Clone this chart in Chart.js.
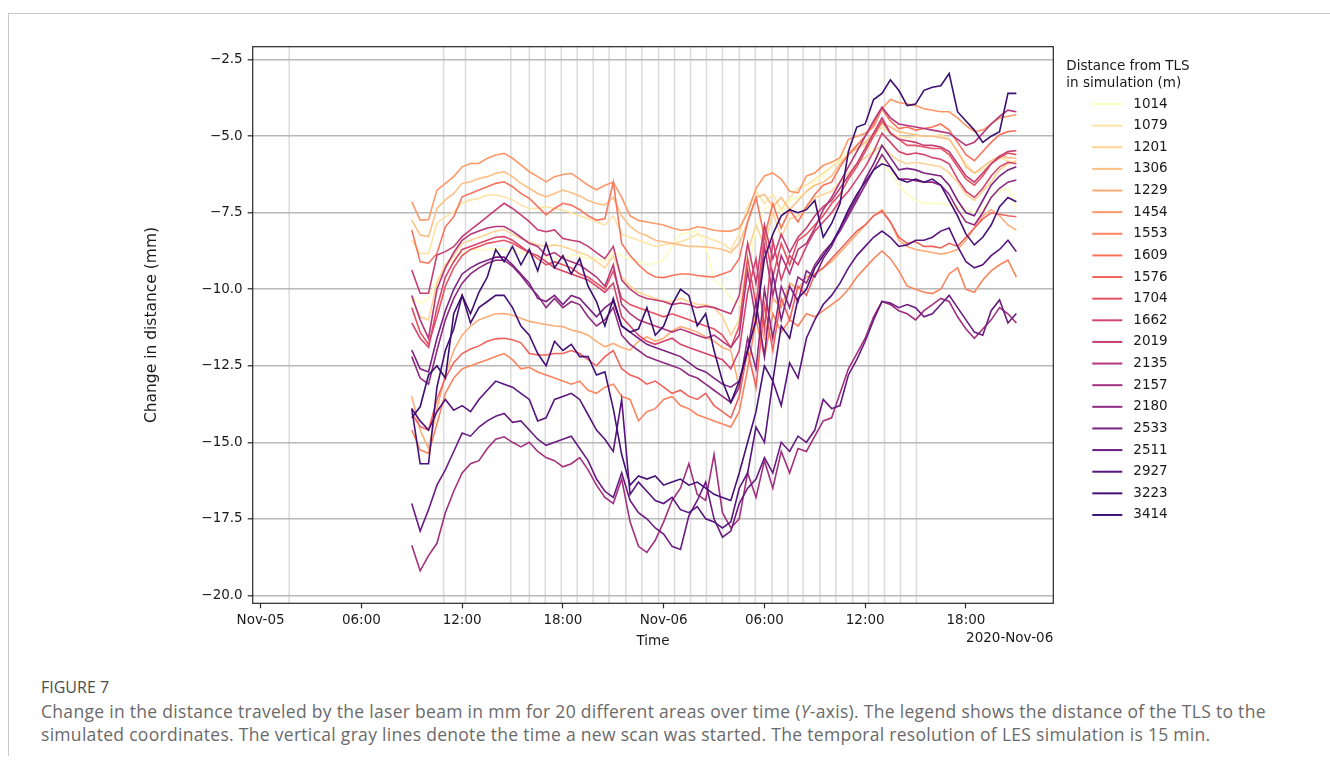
<!DOCTYPE html>
<html>
<head>
<meta charset="utf-8">
<script src="https://cdn.jsdelivr.net/npm/chart.js@4.4.1/dist/chart.umd.min.js"></script>
<style>
  html, body { margin: 0; padding: 0; background: #fff; }
  body { width: 1330px; height: 765px; position: relative; overflow: hidden; }
  #frame { position: absolute; left: 8px; top: 13px; width: 1322px; height: 742px;
           border-top: 1px solid #c9c9c9; border-left: 1px solid #c9c9c9; }
  #wrap { position: absolute; left: 0; top: 0; width: 1330px; height: 660px; }
  #fignum { position: absolute; left: 41px; top: 676px; font-family: "Open Sans", sans-serif;
            font-size: 16px; color: #4d4d4d; letter-spacing: 0px; }
  #caption { position: absolute; left: 41px; top: 700px; font-family: "Open Sans", sans-serif;
             font-size: 17.5px; line-height: 23px; color: #6a6a6a; white-space: nowrap; letter-spacing: 0.3px; }
</style>
</head>
<body>
<div id="frame"></div>
<div id="wrap"><canvas id="grafico" width="1330" height="660"></canvas></div>
<div id="fignum">FIGURE 7</div>
<div id="caption">Change in the distance traveled by the laser beam in mm for 20 different areas over time (<i>Y</i>-axis). The legend shows the distance of the TLS to the<br>simulated coordinates. The vertical gray lines denote the time a new scan was started. The temporal resolution of LES simulation is 15 min.</div>
<script>
// --- datos: horas desde 2020-11-05 00:00 ---
const hours = [9, 9.5, 10, 10.5, 11, 11.5, 12, 12.5, 13, 13.5, 14, 14.5, 15, 15.5, 16, 16.5, 17, 17.5, 18,
  18.5, 19, 19.5, 20, 20.5, 21, 21.5, 22, 22.5, 23, 23.5, 24, 24.5, 25, 25.5, 26, 26.5, 27, 27.5, 28,
  28.5, 29, 29.5, 30, 30.5, 31, 31.5, 32, 32.5, 33,
  33.5, 34, 34.5, 35, 35.5, 36, 36.5, 37, 37.5, 38, 38.5, 39, 39.5, 40, 40.5, 41, 41.5, 42, 42.5, 43, 43.5, 44, 44.5, 45];

const distances = ["1014", "1079", "1201", "1306", "1229", "1454", "1553", "1609", "1576", "1704",
  "1662", "2019", "2135", "2157", "2180", "2533", "2511", "2927", "3223", "3414"];

const s1014 = [-10.24, -10.46, -10.30, -9.70, -9.30, -9.00, -8.80, -8.72, -8.70, -8.70, -8.68, -8.70, -8.75, -8.80, -8.85, -8.90, -8.95, -9.00, -9.00,
  -8.90, -8.90, -9.00, -9.00, -9.10, -8.80, -8.90, -9.00, -9.10, -9.20, -9.15, -9.05, -8.60, -8.20, -8.15, -8.10, -8.60, -9.70, -9.90, -10.30,
  -10.50, -9.50, -8.00, -7.40, -7.20, -7.50, -7.10, -7.00, -6.80, -6.50,
  -6.30, -6.00, -5.70, -5.50, -5.30, -5.10, -5.50, -5.80, -6.20, -6.60, -6.90, -7.10, -7.20, -7.20, -7.20, -7.25, -7.30, -7.40, -7.50, -7.40, -7.00, -6.80, -6.70, -7.40];
const s1079 = [-8.39, -8.83, -8.83, -7.85, -7.63, -7.47, -7.19, -7.08, -7.03, -6.92, -6.92, -6.98, -7.08, -7.25, -7.36, -7.36, -7.30, -7.36, -7.41,
  -7.50, -7.60, -7.70, -7.80, -7.90, -7.60, -8.20, -8.30, -8.40, -8.50, -8.60, -8.55, -8.50, -8.45, -8.35, -8.20, -8.30, -8.40, -8.50, -8.70,
  -8.20, -7.30, -6.80, -7.20, -6.90, -7.40, -7.00, -6.70, -6.60, -6.40,
  -6.20, -6.00, -5.80, -5.60, -5.40, -5.30, -5.00, -4.70, -4.90, -5.00, -5.05, -5.00, -5.00, -5.00, -4.95, -5.10, -5.50, -5.90, -6.20, -6.10, -5.90, -5.70, -5.80, -5.90];
const s1201 = [-10.30, -10.90, -11.00, -9.80, -9.20, -8.90, -8.50, -8.40, -8.30, -8.20, -8.10, -8.05, -8.20, -8.35, -8.45, -8.55, -8.60, -8.55, -8.60,
  -8.70, -8.80, -8.90, -9.10, -9.30, -8.90, -9.60, -9.90, -10.10, -10.20, -10.30, -10.40, -10.40, -10.30, -10.40, -10.50, -10.50, -10.60, -10.90, -11.50,
  -11.00, -8.80, -7.90, -8.60, -7.50, -8.30, -7.70, -7.60, -7.30, -7.00,
  -6.90, -6.80, -6.50, -6.20, -5.90, -5.70, -5.50, -5.30, -5.60, -5.80, -5.90, -5.85, -5.90, -5.95, -6.00, -6.20, -6.50, -6.90, -7.10, -6.80, -6.50, -6.10, -5.90, -5.80];
const s1306 = [-7.74, -8.23, -8.28, -7.36, -7.08, -6.87, -6.54, -6.49, -6.38, -6.32, -6.21, -6.16, -6.32, -6.54, -6.70, -6.87, -6.98, -6.87, -6.76,
  -6.85, -6.95, -7.10, -7.20, -7.25, -7.00, -7.60, -7.95, -8.15, -8.25, -8.40, -8.45, -8.50, -8.55, -8.60, -8.60, -8.62, -8.65, -8.70, -8.80,
  -8.50, -7.80, -7.00, -6.90, -7.30, -7.00, -7.40, -7.10, -6.80, -6.60,
  -6.50, -6.30, -5.90, -5.60, -5.40, -5.20, -4.90, -4.60, -4.70, -4.85, -4.90, -4.95, -5.00, -5.00, -5.05, -5.10, -5.50, -6.00, -6.20, -6.00, -5.80, -5.65, -5.70, -5.72];
const s1229 = [-13.50, -14.60, -15.20, -13.90, -12.80, -12.00, -11.50, -11.20, -11.00, -10.90, -10.80, -10.79, -10.85, -10.95, -11.05, -11.10, -11.15, -11.20, -11.22,
  -11.33, -11.40, -11.50, -11.70, -11.88, -11.77, -11.90, -11.99, -11.70, -11.55, -11.70, -11.60, -11.35, -11.22, -11.30, -11.40, -11.55, -11.70, -11.90, -12.00,
  -13.20, -12.00, -10.80, -11.60, -10.30, -10.60, -9.80, -10.00, -9.60, -9.50,
  -9.30, -9.10, -8.80, -8.50, -8.20, -7.90, -7.60, -7.40, -7.80, -8.40, -8.60, -8.70, -8.75, -8.80, -8.85, -8.80, -8.70, -8.40, -8.00, -7.60, -7.40, -7.60, -7.90, -8.07];
const s1454 = [-7.14, -7.74, -7.72, -6.76, -6.54, -6.32, -6.00, -5.89, -5.89, -5.72, -5.61, -5.56, -5.72, -5.94, -6.16, -6.32, -6.49, -6.32, -6.25,
  -6.21, -6.40, -6.60, -6.75, -6.60, -6.50, -7.00, -7.60, -7.75, -7.80, -7.85, -7.90, -8.00, -8.07, -8.05, -7.96, -8.00, -8.07, -8.10, -8.10,
  -8.00, -7.50, -6.70, -6.30, -6.20, -6.40, -6.80, -6.85, -6.30, -6.20,
  -5.95, -5.85, -5.70, -5.10, -5.00, -4.90, -4.70, -4.10, -3.80, -3.90, -3.95, -4.00, -4.10, -4.15, -4.20, -4.20, -4.40, -4.65, -4.85, -4.80, -4.60, -4.40, -4.35, -4.30];
const s1553 = [-14.60, -15.25, -15.36, -14.40, -13.40, -12.90, -12.60, -12.50, -12.40, -12.30, -12.20, -12.10, -12.30, -12.60, -12.55, -12.70, -12.80, -12.90, -13.00,
  -13.10, -13.00, -13.30, -13.40, -13.20, -13.10, -13.50, -13.60, -14.30, -14.00, -13.90, -13.60, -13.50, -13.80, -13.90, -14.10, -14.20, -14.30, -14.40, -14.50,
  -14.00, -12.60, -11.00, -12.20, -10.80, -11.40, -11.00, -11.20, -10.80, -10.90,
  -10.70, -10.50, -10.30, -10.00, -9.60, -9.30, -9.00, -8.75, -9.00, -9.40, -9.90, -10.00, -10.10, -10.14, -10.00, -9.50, -9.30, -10.00, -10.10, -9.70, -9.40, -9.20, -9.05, -9.60];
const s1609 = [-8.06, -9.10, -9.15, -8.83, -7.96, -7.63, -6.98, -6.87, -6.76, -6.65, -6.54, -6.49, -6.65, -6.87, -7.03, -7.30, -7.57, -7.36, -7.19,
  -7.25, -7.40, -7.60, -7.74, -7.70, -6.50, -8.50, -8.90, -9.20, -9.45, -9.60, -9.62, -9.55, -9.50, -9.50, -9.55, -9.58, -9.60, -9.50, -9.40,
  -9.00, -7.80, -7.00, -8.30, -7.20, -8.00, -7.40, -7.80, -7.30, -6.90,
  -6.60, -6.50, -6.00, -5.60, -5.30, -5.00, -4.60, -4.10, -4.50, -4.75, -4.70, -4.80, -4.75, -4.70, -4.60, -4.80, -5.20, -5.60, -5.80, -5.50, -5.20, -4.95, -4.85, -4.82];
const s1576 = [-14.06, -14.49, -14.60, -13.60, -12.90, -12.40, -12.10, -11.95, -11.85, -11.70, -11.62, -11.60, -11.65, -11.75, -12.10, -12.15, -12.15, -12.10, -12.10,
  -12.00, -12.10, -12.30, -12.50, -12.20, -12.00, -12.60, -12.80, -12.90, -13.10, -13.00, -13.20, -13.40, -13.30, -13.50, -13.60, -13.40, -13.80, -14.00, -14.20,
  -13.50, -12.00, -13.20, -10.50, -12.00, -10.30, -11.00, -9.90, -10.20, -9.50,
  -9.30, -9.00, -8.70, -8.40, -8.10, -7.90, -7.60, -7.45, -7.80, -8.30, -8.50, -8.45, -8.60, -8.60, -8.65, -8.50, -8.60, -8.30, -8.00, -7.70, -7.50, -7.55, -7.60, -7.63];
const s1704 = [-10.60, -11.40, -11.80, -10.90, -9.90, -9.30, -8.90, -8.70, -8.60, -8.50, -8.45, -8.40, -8.50, -8.65, -8.80, -9.00, -9.20, -9.10, -9.20,
  -9.30, -9.50, -9.60, -9.80, -10.00, -9.40, -10.30, -10.50, -10.60, -10.70, -10.80, -10.90, -10.80, -10.90, -11.00, -11.10, -11.20, -11.30, -11.50, -11.90,
  -11.20, -9.00, -10.50, -8.20, -9.60, -8.50, -9.20, -8.40, -8.20, -7.90,
  -7.60, -7.20, -6.90, -6.40, -6.00, -5.50, -5.00, -4.50, -4.90, -5.10, -5.30, -5.30, -5.35, -5.40, -5.40, -5.60, -6.00, -6.40, -6.60, -6.30, -5.90, -5.70, -5.55, -5.60];
const s1662 = [-11.10, -11.60, -11.90, -10.60, -9.60, -9.10, -8.70, -8.60, -8.50, -8.40, -8.30, -8.28, -8.40, -8.60, -8.80, -8.90, -9.10, -9.30, -9.40,
  -9.50, -9.60, -9.70, -9.90, -10.10, -9.80, -10.90, -11.20, -11.50, -11.70, -11.80, -11.70, -11.60, -11.80, -11.90, -12.00, -12.10, -12.20, -12.30, -12.60,
  -12.00, -10.10, -9.00, -11.30, -8.40, -9.70, -8.90, -9.20, -8.60, -8.10,
  -7.80, -7.50, -7.10, -6.80, -6.40, -6.00, -5.50, -4.90, -5.20, -5.50, -5.60, -5.55, -5.60, -5.70, -5.75, -5.90, -6.40, -6.80, -7.00, -6.70, -6.30, -6.00, -5.85, -5.90];
const s2019 = [-9.37, -10.13, -10.13, -8.88, -8.77, -8.61, -8.28, -8.06, -7.85, -7.63, -7.41, -7.19, -7.36, -7.57, -7.79, -8.06, -8.12, -8.06, -8.34,
  -8.40, -8.45, -8.60, -8.80, -9.00, -8.60, -9.70, -10.00, -10.20, -10.30, -10.35, -10.40, -10.50, -10.45, -10.50, -10.60, -10.55, -10.60, -10.70, -10.80,
  -10.20, -8.50, -9.80, -7.90, -9.00, -8.20, -8.80, -8.30, -8.00, -7.60,
  -7.30, -7.10, -6.70, -6.30, -5.90, -5.40, -4.90, -4.40, -4.90, -5.10, -5.15, -5.20, -5.30, -5.30, -5.35, -5.50, -5.90, -6.30, -6.50, -6.20, -5.90, -5.65, -5.50, -5.47];
const s2135 = [-10.20, -11.00, -11.60, -10.00, -9.30, -8.80, -8.40, -8.20, -8.10, -8.00, -7.95, -7.95, -8.10, -8.30, -8.50, -8.60, -8.90, -8.80, -9.00,
  -9.10, -9.20, -9.40, -9.60, -9.90, -9.20, -10.50, -10.80, -11.00, -11.10, -11.20, -11.30, -11.40, -11.30, -11.40, -11.50, -11.60, -11.50, -11.70, -11.90,
  -11.50, -9.40, -11.00, -8.60, -10.20, -8.90, -9.50, -8.70, -8.50, -8.00,
  -7.40, -7.00, -6.50, -6.00, -5.50, -5.00, -4.50, -4.05, -4.40, -4.60, -4.65, -4.70, -4.75, -4.80, -4.85, -4.90, -5.10, -5.30, -5.20, -4.90, -4.60, -4.35, -4.15, -4.20];
const s2157 = [-18.36, -19.20, -18.70, -18.30, -17.30, -16.60, -16.00, -15.70, -15.60, -15.20, -14.90, -14.82, -15.00, -15.15, -15.00, -15.30, -15.50, -15.60, -15.80,
  -15.70, -15.50, -15.90, -16.40, -16.80, -17.00, -16.20, -17.60, -18.40, -18.60, -18.20, -17.60, -16.90, -16.50, -15.70, -16.70, -16.90, -15.40, -17.30, -17.80,
  -17.50, -16.00, -16.80, -15.60, -16.50, -15.30, -16.00, -15.20, -15.30, -14.80,
  -14.30, -14.20, -13.40, -12.60, -12.10, -11.60, -10.90, -10.40, -10.50, -10.70, -10.80, -11.00, -10.70, -10.50, -10.30, -10.40, -10.90, -11.30, -11.60, -11.30, -11.00, -10.60, -10.80, -11.10];
const s2180 = [-12.20, -12.90, -13.10, -12.00, -11.00, -10.30, -9.80, -9.50, -9.30, -9.15, -9.05, -9.05, -9.25, -9.55, -9.90, -10.20, -10.60, -10.30, -10.60,
  -10.40, -10.50, -10.90, -11.20, -11.00, -10.60, -11.50, -11.80, -12.00, -12.20, -12.30, -12.40, -12.50, -12.60, -12.80, -12.90, -13.10, -13.30, -13.50, -13.70,
  -13.20, -11.60, -12.60, -10.00, -11.60, -9.90, -10.60, -9.60, -9.80, -9.20,
  -8.80, -8.50, -8.10, -7.60, -7.10, -6.60, -6.10, -5.60, -6.00, -6.40, -6.40, -6.45, -6.50, -6.50, -6.60, -6.90, -7.40, -7.80, -7.90, -7.50, -7.00, -6.70, -6.50, -6.43];
const s2533 = [-11.99, -12.60, -12.70, -11.60, -10.70, -10.00, -9.50, -9.30, -9.15, -9.05, -8.95, -8.95, -9.20, -9.50, -9.80, -10.30, -10.40, -10.20, -10.50,
  -10.20, -10.30, -10.60, -10.90, -10.60, -10.40, -11.20, -11.40, -11.60, -11.80, -11.90, -12.00, -12.10, -12.20, -12.40, -12.60, -12.70, -12.90, -13.10, -13.20,
  -13.00, -12.00, -10.40, -12.20, -9.50, -11.00, -9.90, -10.40, -9.40, -9.60,
  -9.00, -8.60, -8.00, -7.50, -7.00, -6.40, -5.90, -5.30, -5.70, -6.10, -6.05, -6.10, -6.20, -6.25, -6.30, -6.60, -7.10, -7.50, -7.60, -7.10, -6.60, -6.30, -6.10, -6.00];
const s2511 = [-17.00, -17.90, -17.20, -16.40, -15.90, -15.30, -14.70, -14.80, -14.50, -14.30, -14.15, -14.06, -14.35, -14.30, -14.60, -14.90, -15.10, -15.00, -14.90,
  -14.80, -15.20, -15.60, -16.20, -16.60, -16.80, -16.00, -16.90, -17.30, -17.50, -17.80, -18.00, -18.40, -18.50, -17.40, -16.90, -16.30, -17.50, -18.10, -17.90,
  -17.00, -16.50, -16.20, -15.50, -16.00, -15.00, -15.30, -14.80, -15.00, -14.60,
  -13.60, -13.90, -13.80, -12.80, -12.30, -11.70, -11.00, -10.40, -10.45, -10.60, -10.50, -10.60, -10.90, -10.80, -10.50, -10.20, -10.60, -11.00, -11.40, -11.50, -10.70, -10.35, -11.10, -10.79];
const s2927 = [-13.90, -14.30, -14.60, -14.00, -13.60, -13.95, -13.80, -14.00, -13.60, -13.30, -13.00, -13.10, -13.20, -13.40, -13.60, -14.30, -14.20, -13.60, -13.50,
  -13.40, -13.60, -14.10, -14.60, -14.90, -15.30, -13.60, -16.70, -16.30, -16.60, -16.90, -17.00, -16.80, -17.20, -17.30, -17.10, -17.50, -17.60, -17.80, -17.60,
  -16.50, -16.00, -14.50, -15.00, -13.00, -13.80, -12.40, -12.90, -11.60, -11.00,
  -10.50, -10.20, -9.80, -9.30, -8.90, -8.60, -8.30, -8.10, -8.30, -8.60, -8.55, -8.40, -8.40, -8.30, -8.10, -8.00, -8.60, -9.10, -9.30, -9.20, -8.90, -8.70, -8.40, -8.77];
const s3223 = [-13.90, -15.70, -15.70, -13.20, -12.00, -11.30, -10.20, -11.10, -10.60, -10.40, -10.20, -10.20, -10.60, -11.20, -11.50, -12.10, -12.50, -11.70, -12.00,
  -11.80, -12.20, -12.20, -12.80, -12.70, -13.90, -15.40, -16.40, -16.10, -16.20, -16.10, -16.40, -16.30, -16.20, -16.40, -16.30, -16.50, -16.70, -16.80, -16.90,
  -16.00, -15.00, -14.00, -12.50, -13.00, -11.20, -11.60, -10.30, -10.00, -9.30,
  -8.90, -8.50, -8.00, -7.40, -6.90, -6.50, -6.10, -5.90, -6.00, -6.40, -6.50, -6.40, -6.50, -6.40, -6.60, -7.10, -7.60, -8.20, -8.55, -8.30, -7.90, -7.30, -7.00, -7.14];
const s3414 = [-14.20, -13.84, -12.80, -12.50, -12.90, -10.80, -10.20, -10.80, -10.10, -9.60, -8.70, -9.10, -8.60, -9.20, -8.70, -9.40, -8.50, -9.30, -8.90,
  -9.50, -9.00, -9.90, -10.40, -11.20, -10.30, -11.20, -11.40, -11.30, -10.60, -11.50, -11.20, -10.50, -10.00, -10.20, -11.20, -10.80, -12.00, -13.00, -13.70,
  -13.00, -12.00, -11.00, -9.00, -8.20, -7.60, -7.40, -7.50, -7.40, -7.10,
  -8.30, -7.85, -7.20, -5.50, -4.70, -4.60, -3.80, -3.60, -3.16, -3.50, -4.00, -3.95, -3.50, -3.40, -3.35, -2.95, -4.20, -4.50, -4.80, -5.20, -5.00, -4.85, -3.60, -3.60];

// inicio de cada escaneo (horas)
const scanStarts = [1.7, 10.9, 12.2, 14.9, 16.0, 16.95, 17.9, 18.85, 19.8, 20.75, 21.75, 22.7, 23.7, 24.65,
  25.6, 26.55, 27.5, 28.5, 29.45, 30.45, 31.4, 32.3, 33.3, 34.25, 35.25, 36.2, 37.15, 38.1, 39.05];

const xTicks = [0, 6, 12, 18, 24, 30, 36, 42];
const xTickLabels = ["Nov-05", "06:00", "12:00", "18:00", "Nov-06", "06:00", "12:00", "18:00"];
const yTicks = [-20, -17.5, -15, -12.5, -10, -7.5, -5, -2.5];

const series = [s1014, s1079, s1201, s1306, s1229, s1454, s1553, s1609, s1576, s1704,
  s1662, s2019, s2135, s2157, s2180, s2533, s2511, s2927, s3223, s3414];

// magma, de claro a oscuro
const colores = ["#fcfdbf", "#fde4a6", "#fed395", "#febf84", "#feac76", "#fd9869", "#fb8560", "#f8745c", "#f2625d", "#e75263",
  "#d8456c", "#c63d73", "#b53679", "#a2307e", "#902b81", "#7c2382", "#6a1c81", "#58157e", "#471078", "#3b0f70"];

const FONT = "DejaVu Sans";
const TXT = "#1a1a1a";

const lineasEscaneo = {
  id: "lineasEscaneo",
  beforeDraw(chart) {
    const { ctx, chartArea: a, scales: { x } } = chart;
    ctx.save();
    ctx.strokeStyle = "#dcdcdc";
    ctx.lineWidth = 1.5;
    scanStarts.forEach(t => {
      const px = x.getPixelForValue(t);
      ctx.beginPath(); ctx.moveTo(px, a.top); ctx.lineTo(px, a.bottom); ctx.stroke();
    });
    ctx.restore();
  }
};

const marcoYLeyenda = {
  id: "marcoYLeyenda",
  afterDraw(chart) {
    const { ctx, chartArea: a } = chart;
    ctx.save();
    ctx.strokeStyle = "#262626";
    ctx.lineWidth = 1.2;
    ctx.strokeRect(a.left, a.top, a.right - a.left, a.bottom - a.top);

    ctx.fillStyle = TXT;
    ctx.font = "13.5px '" + FONT + "'";
    ctx.textBaseline = "middle";
    ctx.textAlign = "right";
    ctx.fillText("2020-Nov-06", a.right, 638);

    // leyenda
    const lx = a.right + 13;
    ctx.textAlign = "left";
    ctx.fillText("Distance from TLS", lx, 66);
    ctx.fillText("in simulation (m)", lx, 83);
    chart.data.datasets.forEach((ds, i) => {
      const y = 104 + i * 21.63;
      ctx.strokeStyle = ds.borderColor;
      ctx.lineWidth = 2;
      ctx.beginPath(); ctx.moveTo(lx + 26, y); ctx.lineTo(lx + 56, y); ctx.stroke();
      ctx.fillText(ds.label, lx + 67, y);
    });
    ctx.restore();
  }
};

const datasets = series.map((s, i) => ({
  label: distances[i],
  data: hours.map((h, j) => ({ x: h, y: s[j] })),
  borderColor: colores[i],
  borderWidth: 1.6,
  pointRadius: 0,
  tension: 0,
  fill: false,
  order: series.length - 1 - i
}));

new Chart(document.getElementById("grafico").getContext("2d"), {
  type: "line",
  data: { datasets },
  plugins: [lineasEscaneo, marcoYLeyenda],
  options: {
    responsive: false,
    animation: false,
    devicePixelRatio: 1,
    events: [],
    layout: { padding: { left: 142.7, right: 276.7, top: 46.7, bottom: 6.7 } },
    plugins: { legend: { display: false }, tooltip: { enabled: false } },
    scales: {
      x: {
        type: "linear", min: -0.47, max: 47.2,
        afterBuildTicks: s => { s.ticks = xTicks.map(v => ({ value: v })); },
        afterFit: s => { s.height = 50; },
        ticks: {
          callback: v => xTickLabels[xTicks.indexOf(v)],
          autoSkip: false, maxRotation: 0, padding: 4,
          font: { family: FONT, size: 13.5 }, color: TXT
        },
        grid: { drawOnChartArea: false, drawTicks: true, tickLength: 5, tickColor: "#262626", tickWidth: 1.2 },
        border: { display: false },
        title: { display: true, text: "Time", color: TXT, font: { family: FONT, size: 13.5 }, padding: { top: 0, bottom: 4 } }
      },
      y: {
        type: "linear", min: -20.26, max: -2.075,
        afterBuildTicks: s => { s.ticks = yTicks.map(v => ({ value: v })); },
        afterFit: s => { s.width = 110; },
        ticks: {
          callback: v => (v < 0 ? "\u2212" : "") + Math.abs(v).toFixed(1),
          padding: 5, font: { family: FONT, size: 13.5 }, color: TXT
        },
        grid: { color: "#b8b8b8", lineWidth: 1.6, tickLength: 5, tickColor: "#262626", tickWidth: 1.2 },
        border: { display: false },
        title: { display: true, text: "Change in distance (mm)", color: TXT, font: { family: FONT, size: 15.5 }, padding: 0 }
      }
    }
  }
});
</script>
</body>
</html>
